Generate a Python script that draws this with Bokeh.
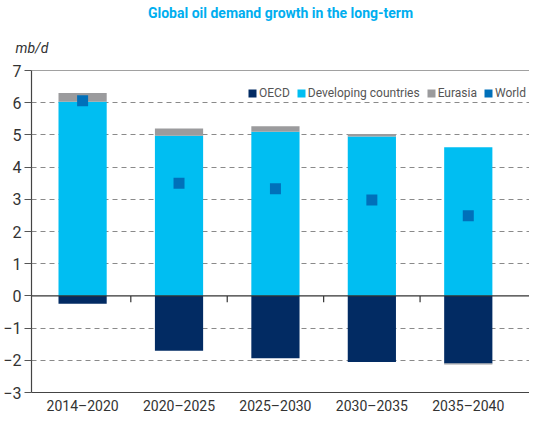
from bokeh.plotting import figure
from bokeh.models import (Title, Span, FixedTicker, Legend, LegendItem, ColumnDataSource, Range1d)
from bokeh.embed import file_html
from bokeh.resources import INLINE

categories = ["2014\u20132020", "2020\u20132025", "2025\u20132030", "2030\u20132035", "2035\u20132040"]
oecd = [-0.24, -1.70, -1.94, -2.05, -2.10]
developing = [6.03, 4.97, 5.10, 4.95, 4.62]
eurasia = [0.27, 0.23, 0.17, 0.08, -0.03]
world = [6.06, 3.50, 3.33, 2.98, 2.49]
y_ticks = [-3, -2, -1, 0, 1, 2, 3, 4, 5, 6, 7]

FONT = "Roboto"
C_OECD = "#022B63"
C_DEV = "#00BEF2"
C_EUR = "#9B9B9D"
C_WORLD = "#0070BA"

xs = [i + 0.5 for i in range(len(categories))]
eur_bottom = [d if e >= 0 else o for d, e, o in zip(developing, eurasia, oecd)]
eur_top = [b + e for b, e in zip(eur_bottom, eurasia)]

src = ColumnDataSource(dict(x=xs, oecd=oecd, dev=developing, eb=eur_bottom, et=eur_top, world=world,
                            zero=[0] * len(xs)))

p = figure(width=529, height=416, output_backend="svg", toolbar_location=None,
           x_range=Range1d(-0.03, 5.135), y_range=Range1d(-3, 7),
           min_border_left=19, min_border_right=0, min_border_bottom=0, min_border_top=0)
p.title.visible = False
p.outline_line_color = None
p.background_fill_color = "white"
p.border_fill_color = "white"

# grid
p.xgrid.visible = False
p.ygrid.ticker = FixedTicker(ticks=[t for t in y_ticks if t not in (0, 7, -3)])
p.ygrid.grid_line_color = "#8a8a8a"
p.ygrid.grid_line_dash = "5 4"
p.ygrid.grid_line_width = 1

r_oecd = p.vbar(x="x", top="oecd", bottom="zero", width=0.5, source=src, fill_color=C_OECD, line_color=None)
r_dev = p.vbar(x="x", top="dev", bottom="zero", width=0.5, source=src, fill_color=C_DEV, line_color=None)
r_eur = p.vbar(x="x", top="et", bottom="eb", width=0.5, source=src, fill_color=C_EUR, line_color=None)
r_world = p.scatter(x="x", y="world", source=src, marker="square", size=11, fill_color=C_WORLD, line_color=None)
# legend swatch for World (square like the others)
r_world_key = p.vbar(x=[float("nan")], top=[float("nan")], width=0.5, fill_color=C_WORLD, line_color=None)

# lines
p.add_layout(Span(location=0, dimension="width", line_color="#333333", line_width=1.2))
p.add_layout(Span(location=7, dimension="width", line_color="#444444", line_width=1.2))
# category separator ticks on zero line
sep = [x + 0.5 for x in xs[:-1]]
p.segment(x0=sep, x1=sep, y0=[0] * len(sep), y1=[-0.2] * len(sep), line_color="#333333", line_width=1.2)

# axes
p.yaxis.ticker = FixedTicker(ticks=y_ticks)
p.yaxis.axis_line_color = "#444444"
p.yaxis.axis_line_width = 1.2
p.yaxis.major_tick_line_color = "#555555"
p.yaxis.major_tick_out = 7
p.yaxis.major_tick_in = 0
p.yaxis.minor_tick_line_color = None
p.yaxis.major_label_text_font = FONT
p.yaxis.major_label_text_font_size = "16px"
p.yaxis.major_label_text_color = "#333333"
p.yaxis.major_label_standoff = 3

p.xaxis.ticker = FixedTicker(ticks=xs)
p.xaxis.major_label_overrides = {x: c for x, c in zip(xs, categories)}
p.xaxis.axis_line_color = "#444444"
p.xaxis.axis_line_width = 1.2
p.xaxis.major_tick_line_color = None
p.xaxis.major_tick_out = 0
p.xaxis.major_tick_in = 0
p.xaxis.minor_tick_line_color = None
p.xaxis.minor_tick_out = 0
p.xaxis.axis_label_standoff = 0
p.xaxis.major_label_text_font = FONT
p.xaxis.major_label_text_font_size = "14px"
p.xaxis.major_label_text_color = "#333333"
p.xaxis.major_label_standoff = 5

legend = Legend(items=[LegendItem(label="OECD", renderers=[r_oecd]),
                       LegendItem(label="Developing countries", renderers=[r_dev]),
                       LegendItem(label="Eurasia", renderers=[r_eur]),
                       LegendItem(label="World", renderers=[r_world_key])],
                orientation="horizontal", location=(216, 292),
                glyph_width=10, glyph_height=10, label_standoff=2, spacing=6,
                padding=0, margin=0, border_line_color=None, background_fill_alpha=0,
                label_text_font=FONT, label_text_font_size="12px", label_text_color="#555555")
p.add_layout(legend)

p.add_layout(Title(text="mb/d", align="left", offset=-16, text_font=FONT, text_font_style="italic",
                   text_font_size="14px", text_color="#333333", standoff=30), "above")
p.add_layout(Title(text="Global oil demand growth in the long-term", align="center",
                   text_font=FONT, text_font_style="bold", text_font_size="14px",
                   text_color="#00AEEF", standoff=4), "above")

open("out.html", "w").write(file_html(p, INLINE))
